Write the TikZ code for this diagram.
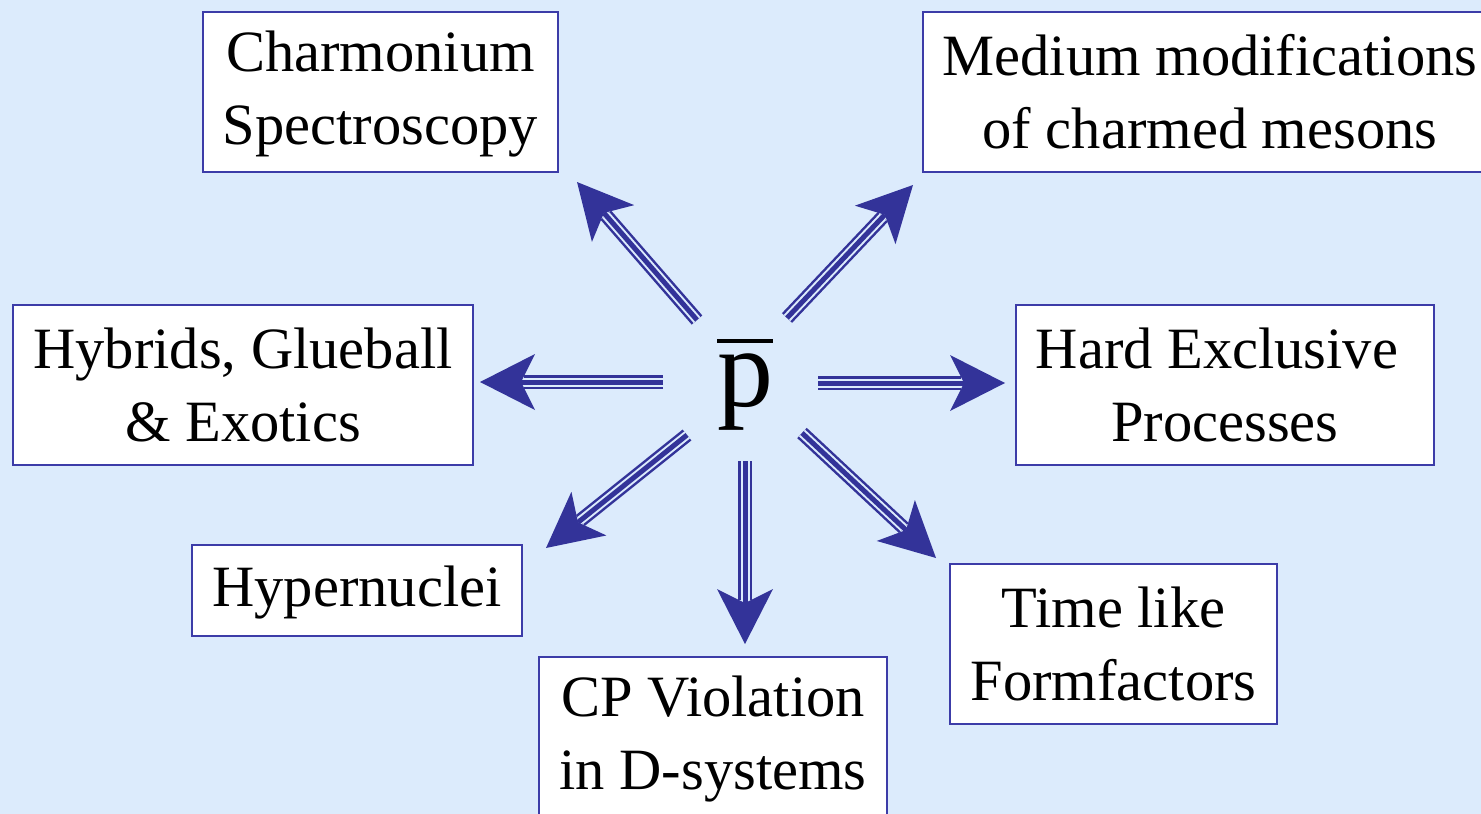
\documentclass[tikz,border=0pt]{standalone}
\usepackage{fontspec}
\setmainfont{Liberation Serif}
\usetikzlibrary{arrows.meta}
\definecolor{bgc}{HTML}{DCEBFC}
\definecolor{ablue}{HTML}{333399}
\definecolor{bblue}{HTML}{3C3CA8}
\newcommand\mystrut{\vrule height 45pt depth 6pt width 0pt}
\newcommand\barp{\setbox0\hbox{p}\vbox{\hrule height 4pt width \wd0\kern 11pt\box0}}
\newcommand\triplearrow[2]{%
  \draw[shaftout] (#1) -- (#2);
  \draw[shaftgap] (#1) -- (#2);
  \draw[shaftmid] (#1) -- (#2);}
\tikzset{
  box/.style={draw=bblue, line width=1.8pt, fill=white, align=center, inner sep=0pt,
    font=\fontsize{58.5}{73}\selectfont},
  shaftout/.style={draw=ablue, line width=14pt, shorten >=44pt},
  shaftgap/.style={draw=bgc, line width=9pt, shorten >=44pt},
  shaftmid/.style={draw=ablue, line width=5pt,
    -{Stealth[length=55pt,width=56pt,inset=14pt,line width=0pt]}},
}
\begin{document}
\begin{tikzpicture}[x=1pt,y=-1pt]
\useasboundingbox (0,0) rectangle (1481,814);
\clip (0,0) rectangle (1481,814);
\fill[bgc] (0,0) rectangle (1481,814);

\node[box, minimum width=355pt, minimum height=160pt] (charm) at (380.5,92)
  {\mystrut Charmonium\\\mystrut Spectroscopy};
\node[box, minimum width=574pt, minimum height=160pt] (medium) at (1210,92)
  {\mystrut Medium modifications\\\mystrut of charmed mesons};
\node[box, minimum width=460pt, minimum height=160pt] (hybrid) at (243,385)
  {\mystrut Hybrids, Glueball\\\mystrut \& Exotics};
\node[box, minimum width=418pt, minimum height=160pt] (hard) at (1225,385)
  {\mystrut Hard Exclusive\hspace*{16pt}\\\mystrut Processes};
\node[box, minimum width=330pt, minimum height=91pt] (hyper) at (357,590.5)
  {\mystrut Hypernuclei};
\node[box, minimum width=348pt, minimum height=160pt] (cp) at (713,737)
  {\mystrut CP Violation\\\mystrut in D-systems};
\node[box, minimum width=327pt, minimum height=160pt] (time) at (1113.5,644)
  {\mystrut Time like\\\mystrut Formfactors};

\node[inner sep=0pt, font=\fontsize{112}{120}\selectfont] (pbar) at (745,385)
  {\barp};

\coordinate (s1) at (697,320); \coordinate (t1) at (577,182);
\coordinate (s2) at (787,318); \coordinate (t2) at (913,185);
\coordinate (s3) at (663,382); \coordinate (t3) at (480,382);
\coordinate (s4) at (818,383); \coordinate (t4) at (1005,383);
\coordinate (s5) at (687,435); \coordinate (t5) at (546,548);
\coordinate (s6) at (745,461); \coordinate (t6) at (745,644);
\coordinate (s7) at (802,433); \coordinate (t7) at (936,558);

\triplearrow{s1}{t1}
\triplearrow{s2}{t2}
\triplearrow{s3}{t3}
\triplearrow{s4}{t4}
\triplearrow{s5}{t5}
\triplearrow{s6}{t6}
\triplearrow{s7}{t7}
\end{tikzpicture}
\end{document}
